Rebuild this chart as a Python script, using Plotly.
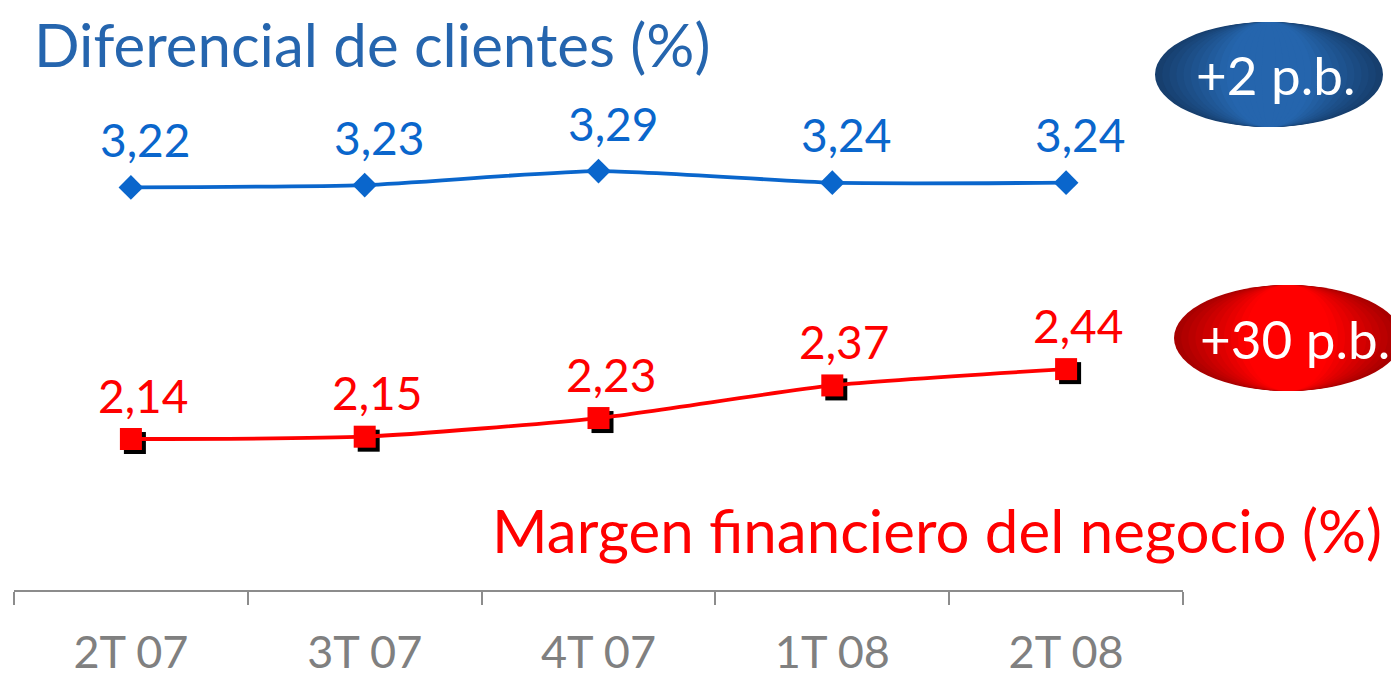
import plotly.graph_objects as go

categories = ["2T 07", "3T 07", "4T 07", "1T 08", "2T 08"]
diferencial = [3.22, 3.23, 3.29, 3.24, 3.24]
margen = [2.14, 2.15, 2.23, 2.37, 2.44]
dif_labels = ["3,22", "3,23", "3,29", "3,24", "3,24"]
mar_labels = ["2,14", "2,15", "2,23", "2,37", "2,44"]

W, H = 1399, 678
OFF = 8  # page body margin in the browser
L, R, T, B = 14 - OFF, W - (1183 - OFF), 0, H - (590 - OFF)
PW, PH = W - L - R, H - T - B
YMIN = 1.492
YPX = 233.0
YMAX = YMIN + PH / YPX
XPX = PW / 5.0

BLUE_T = "#2565ae"
BLUE = "#0a66cc"
RED = "#ff0000"
GRAY = "#8c8c8c"
FONT = "Lato"

def px(x):
    return (x - OFF - L) / PW

def py(y):
    return (H - B - (y - OFF)) / PH

fig = go.Figure()
xi = list(range(len(categories)))

# shadow of red markers on shifted hidden axes (x / y)
fig.add_trace(go.Scatter(
    x=xi, y=margen, mode="markers", xaxis="x", yaxis="y",
    marker=dict(symbol="square", size=22, color="black"),
    hoverinfo="skip", showlegend=False))

fig.add_trace(go.Scatter(
    x=xi, y=diferencial, mode="lines+markers", xaxis="x2", yaxis="y2",
    line=dict(color=BLUE, width=3.8, shape="spline", smoothing=0.6),
    marker=dict(symbol="diamond", size=19, color=BLUE),
    showlegend=False))

fig.add_trace(go.Scatter(
    x=xi, y=margen, mode="lines+markers", xaxis="x2", yaxis="y2",
    line=dict(color=RED, width=3.8, shape="spline", smoothing=0.6),
    marker=dict(symbol="square", size=22, color=RED),
    showlegend=False))

for i in xi:
    fig.add_annotation(x=i, y=diferencial[i], xref="x2", yref="y2", text=dif_labels[i],
                       showarrow=False, xshift=14, yshift=48,
                       xanchor="center", yanchor="middle",
                       font=dict(family=FONT, size=46, color=BLUE))
    fig.add_annotation(x=i, y=margen[i], xref="x2", yref="y2", text=mar_labels[i],
                       showarrow=False, xshift=12, yshift=44,
                       xanchor="center", yanchor="middle",
                       font=dict(family=FONT, size=46, color=RED))

sx = 4 / XPX
sy = 4 / YPX

fig.update_layout(
    width=W, height=H,
    margin=dict(l=L, r=R, t=T, b=B, autoexpand=False),
    paper_bgcolor="white", plot_bgcolor="white",
    xaxis=dict(range=[-0.5 - sx, 4.5 - sx], visible=False, automargin=False),
    yaxis=dict(range=[YMIN + sy, YMAX + sy], visible=False, automargin=False),
    xaxis2=dict(
        range=[-0.5, 4.5], overlaying="x", anchor="y2", side="bottom", automargin=False,
        tickmode="array", tickvals=xi, ticktext=categories,
        showgrid=False, zeroline=False, showline=True, linecolor=GRAY, linewidth=1.5,
        ticks="", tickfont=dict(family=FONT, size=45, color="#808080"),
        ticklabelstandoff=22,
        minor=dict(tickmode="array", tickvals=[-0.5, 0.5, 1.5, 2.5, 3.5, 4.5],
                   ticks="outside", ticklen=13, tickcolor=GRAY, tickwidth=1.5),
    ),
    yaxis2=dict(range=[YMIN, YMAX], overlaying="y", visible=False, automargin=False),
)

# gradient ellipses
def grad_ellipse(x0, x1, y0, y1, c_edge, c_mid, n=16):
    def mix(a, b, t):
        a = [int(a[i:i + 2], 16) for i in (1, 3, 5)]
        b = [int(b[i:i + 2], 16) for i in (1, 3, 5)]
        return "rgb(%d,%d,%d)" % tuple(round(a[k] + (b[k] - a[k]) * t) for k in range(3))
    cx = (x0 + x1) / 2
    hw = (x1 - x0) / 2
    for i in range(n):
        f = 1 - i / n
        t = min(1.0, i / (n * 0.6))
        fig.add_shape(type="circle", xref="paper", yref="paper",
                      x0=px(cx - hw * f), x1=px(cx + hw * f),
                      y0=py(y1), y1=py(y0),
                      fillcolor=mix(c_edge, c_mid, t), line=dict(width=0), layer="above")

grad_ellipse(1155, 1383, 22, 127, "#173f6e", "#2565ad")
grad_ellipse(1174, 1402, 285, 391, "#a80000", "#ff0000")

def label(x, y, text, size, color, xanchor="center"):
    fig.add_annotation(xref="paper", yref="paper", x=px(x), y=py(y), text=text,
                       xanchor=xanchor, yanchor="middle", showarrow=False,
                       font=dict(family=FONT, size=size, color=color))

label(1275, 74, "+2 p.b.", 53, "white")
label(1295, 338, "+30 p.b.", 53, "white")
label(32, 44, "Diferencial de clientes (%)", 60, BLUE_T, xanchor="left")
label(1384, 530, "Margen financiero del negocio (%)", 60, RED, xanchor="right")

fig.write_html("out.html")
